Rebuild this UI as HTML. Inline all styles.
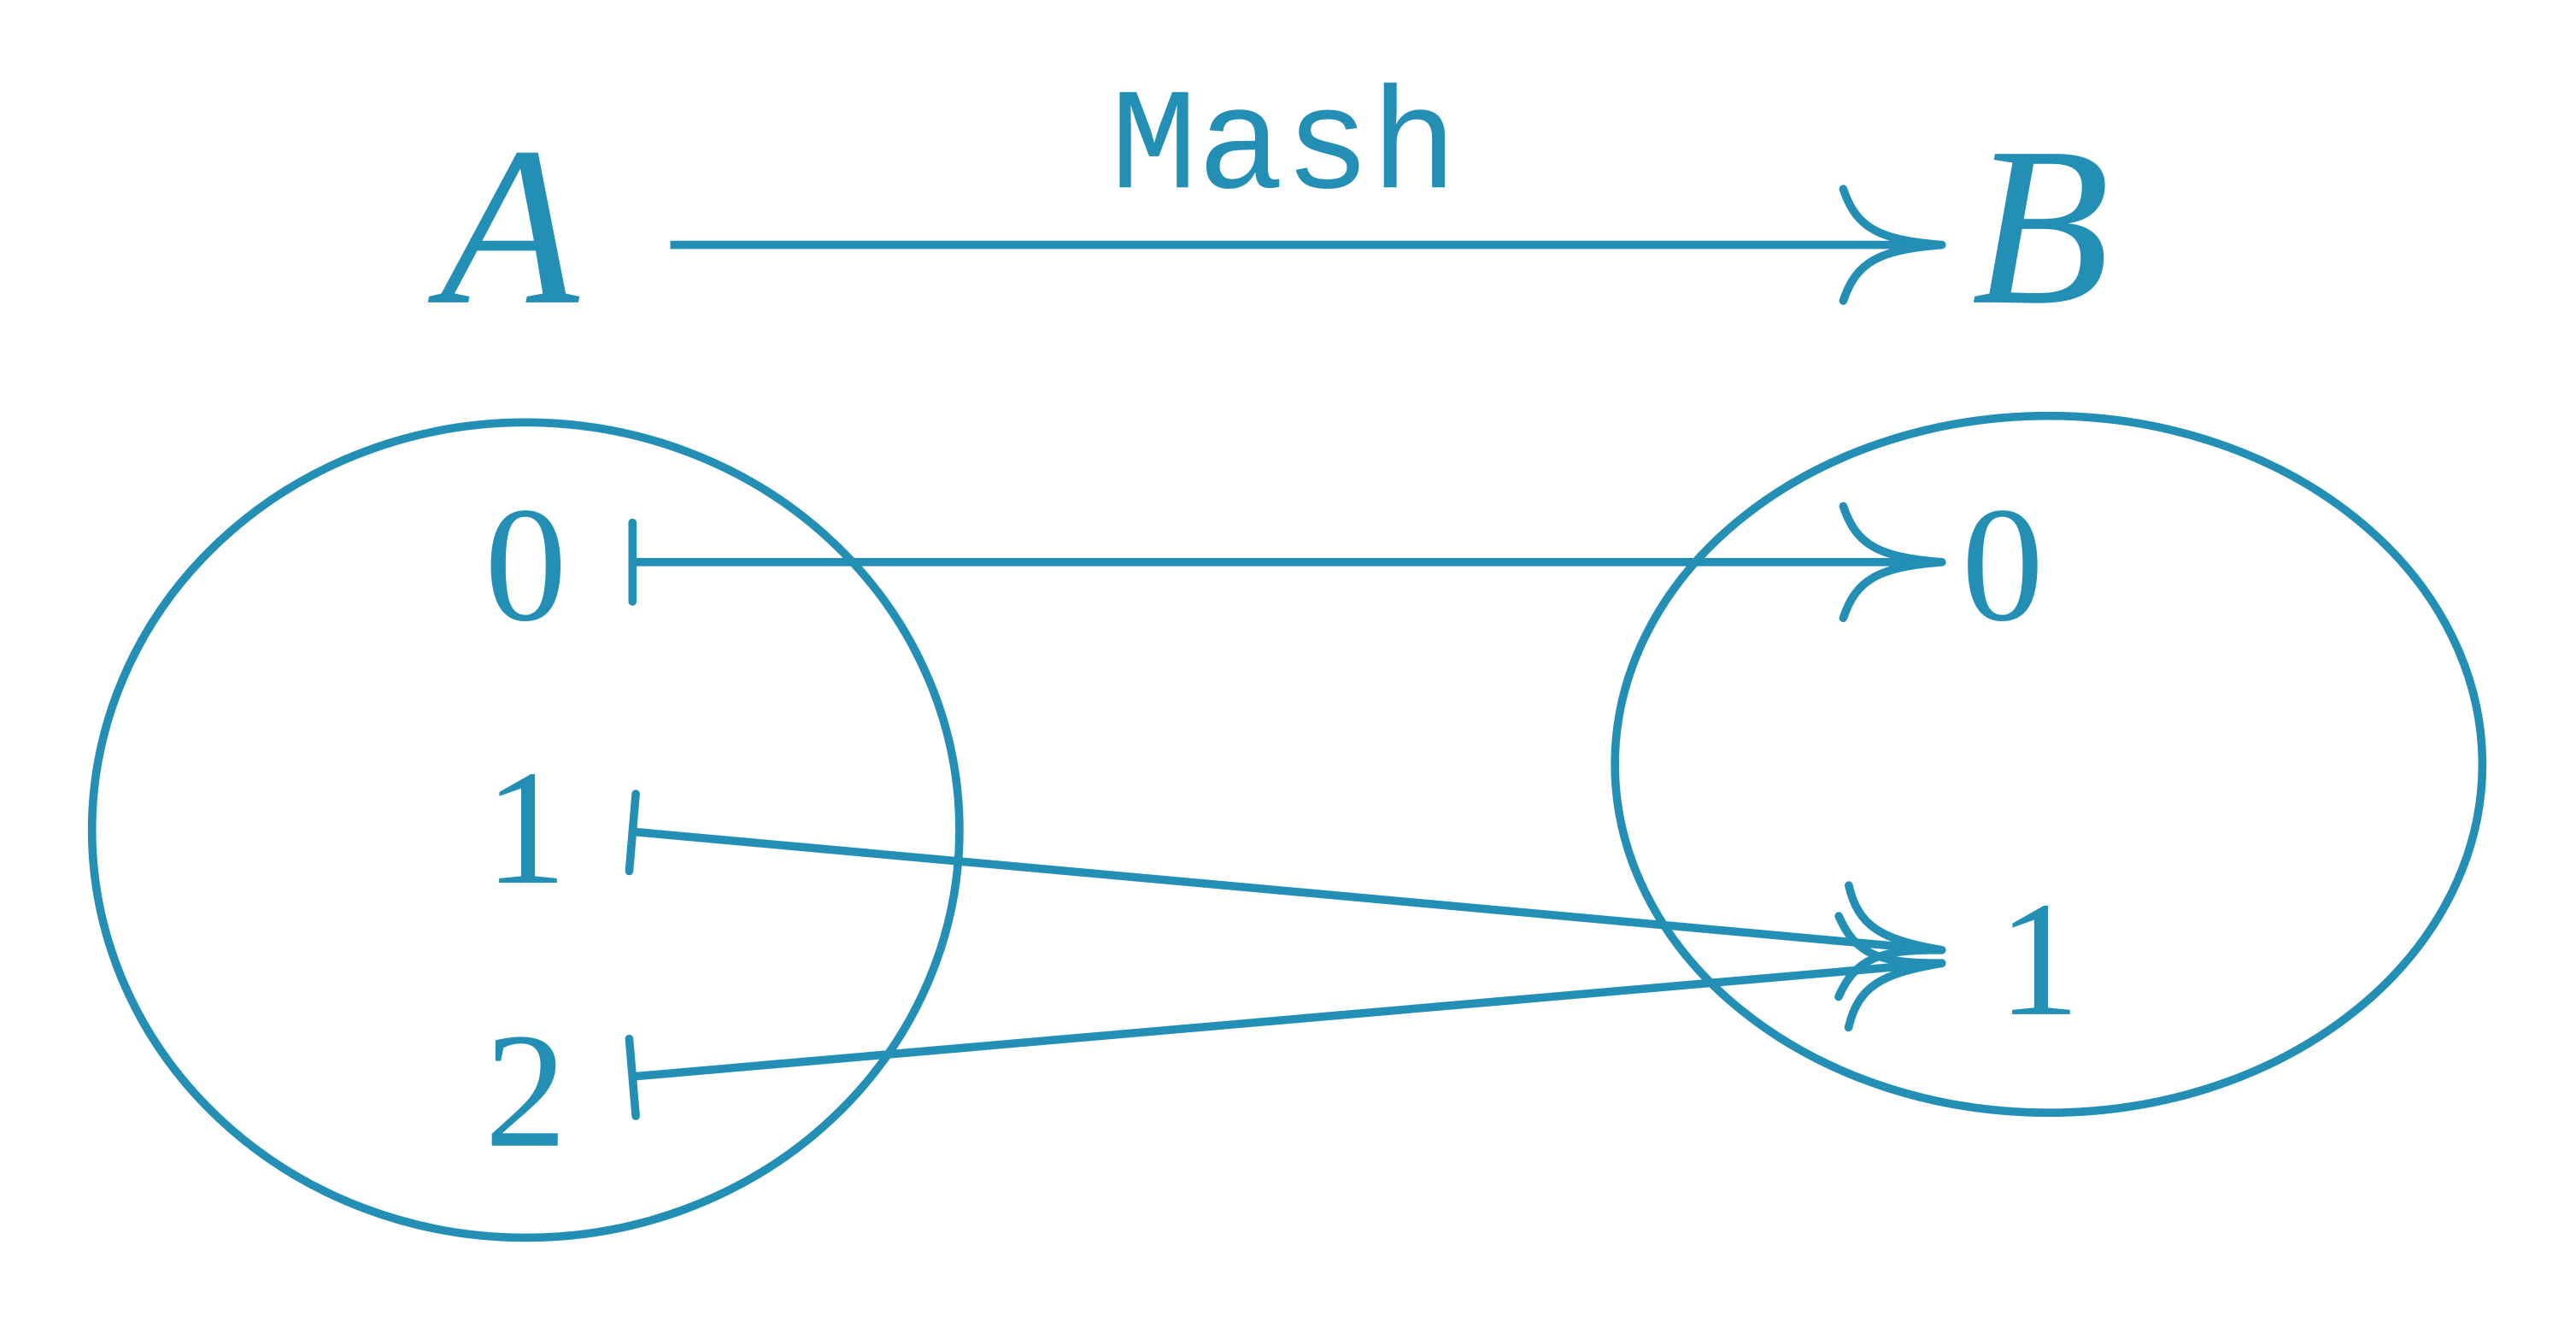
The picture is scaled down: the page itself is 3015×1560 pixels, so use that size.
<!DOCTYPE html>
<html><head><meta charset="utf-8"><style>html,body{margin:0;padding:0;background:#fff}svg{display:block}</style></head>
<body>
<svg width="3015" height="1560" viewBox="0 0 1568 811" preserveAspectRatio="none" xmlns="http://www.w3.org/2000/svg">
<defs>
<g id="head"><path d="M-60,-34 C-52,-10 -38,-3 0,0 M-60,34 C-52,10 -38,3 0,0" fill="none" stroke="#238fb5" stroke-width="5" stroke-linecap="round"/></g>
</defs>
<g fill="#238fb5" style="font-family:'Liberation Serif',serif">
<text x="268" y="184" font-size="138" font-style="italic">A</text>
<text x="1200" y="184" font-size="138" font-style="italic">B</text>
<text x="676" y="114" font-size="88" style="font-family:'Liberation Mono','DejaVu Sans Mono',monospace">Mash</text>
<text x="320" y="377" font-size="100" text-anchor="middle">0</text>
<text x="320" y="537" font-size="100" text-anchor="middle">1</text>
<text x="320" y="697" font-size="100" text-anchor="middle">2</text>
<text x="1219" y="377" font-size="100" text-anchor="middle">0</text>
<text x="1241" y="617" font-size="100" text-anchor="middle">1</text>
</g>
<g fill="none" stroke="#238fb5" stroke-width="5" stroke-linecap="round">
<ellipse cx="320" cy="505" rx="264" ry="248"/>
<ellipse cx="1247" cy="465" rx="264" ry="212"/>
<line x1="408" y1="149" x2="1180" y2="149" stroke-linecap="butt"/>
<line x1="385" y1="342" x2="1180" y2="342"/>
<line x1="385" y1="318" x2="385" y2="366"/>
<line x1="385" y1="506" x2="1180" y2="578"/>
<line x1="387" y1="483" x2="383" y2="530"/>
<line x1="385" y1="655" x2="1180" y2="586"/>
<line x1="383" y1="632" x2="387" y2="679"/>
</g>
<use href="#head" transform="translate(1182,149)"/>
<use href="#head" transform="translate(1182,342)"/>
<use href="#head" transform="translate(1182,578) rotate(5.2)"/>
<use href="#head" transform="translate(1182,586) rotate(-5)"/>
</svg>
</body></html>
